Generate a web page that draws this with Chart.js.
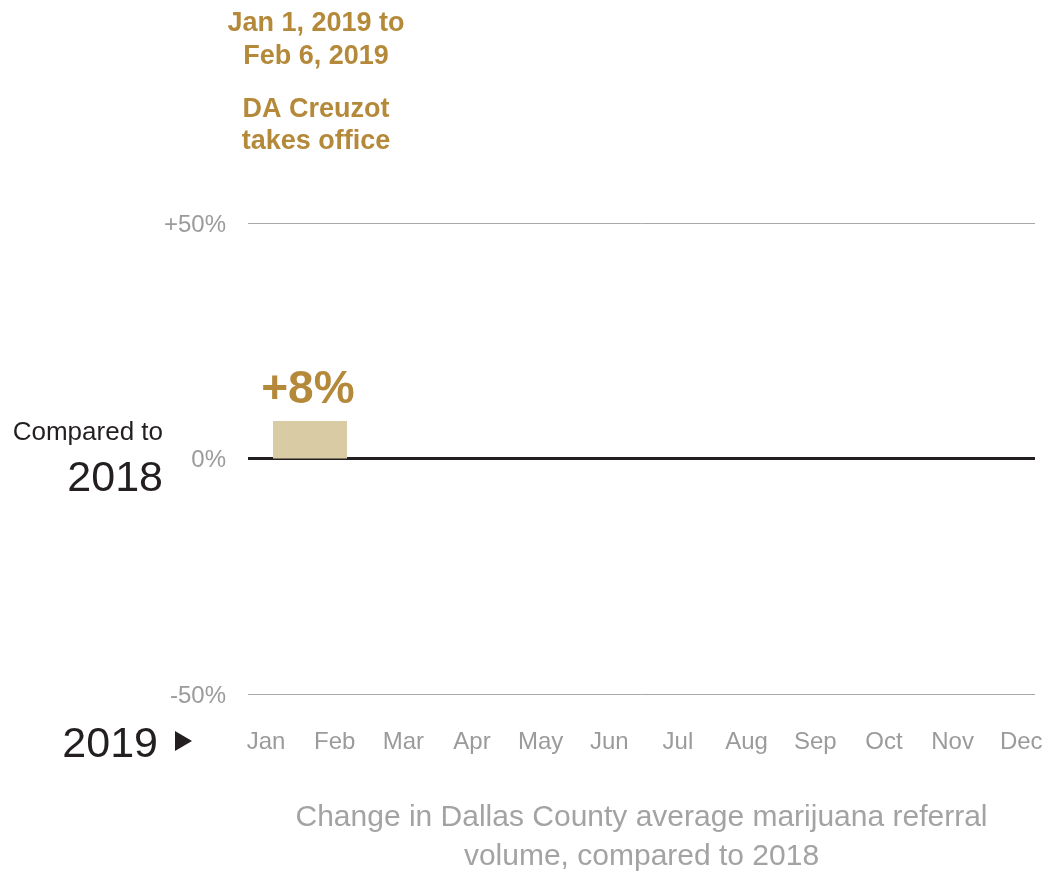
<!DOCTYPE html>
<html><head><meta charset="utf-8">
<script src="https://cdn.jsdelivr.net/npm/chart.js@4"></script>
<style>html,body{margin:0;padding:0;background:#fff}canvas{display:block}</style>
</head><body>
<canvas id="c" width="1043" height="871"></canvas>
<script>
const months = ['Jan','Feb','Mar','Apr','May','Jun','Jul','Aug','Sep','Oct','Nov','Dec'];
const yTicks = [-50, 0, 50];
const barStart = [0.1];
const barEnd = [1.18];
const barValues = [8];
const barLabels = ['+8%'];
const periodLines = ['Jan 1, 2019 to', 'Feb 6, 2019'];
const eventLines = ['DA Creuzot', 'takes office'];
const titleLines = ['Change in Dallas County average marijuana referral', 'volume, compared to 2018'];

const GOLD = '#b5893a';
const FONT = '"Liberation Sans", Arial, Helvetica, sans-serif';

const barData = [];
barStart.forEach((s, i) => { barData.push({x: s, y: barValues[i]}); barData.push({x: barEnd[i], y: barValues[i]}); });

const textPlugin = {
  id: 'texts',
  afterDraw(chart) {
    const ctx = chart.ctx, xs = chart.scales.x, ys = chart.scales.y, ca = chart.chartArea;
    ctx.save();
    const bx = xs.getPixelForValue((barStart[0] + barEnd[0]) / 2);
    const by = ys.getPixelForValue(barValues[0]);
    ctx.fillStyle = GOLD; ctx.textAlign = 'center'; ctx.textBaseline = 'alphabetic';
    ctx.font = 'bold 46px ' + FONT;
    ctx.fillText(barLabels[0], bx - 2, by - 18);
    ctx.font = 'bold 27px ' + FONT;
    const ax = bx + 6;
    ctx.fillText(periodLines[0], ax, 31);
    ctx.fillText(periodLines[1], ax, 64);
    ctx.fillText(eventLines[0], ax, 117);
    ctx.fillText(eventLines[1], ax, 149);
    const y0 = ys.getPixelForValue(0);
    ctx.fillStyle = '#231f20'; ctx.textAlign = 'right';
    ctx.font = '26px ' + FONT;
    ctx.fillText('Compared to', 163, y0 - 19);
    ctx.font = '43px ' + FONT;
    ctx.fillText('2018', 163, y0 + 32);
    ctx.fillText('2019', 158, 757);
    ctx.beginPath();
    ctx.moveTo(175, 731); ctx.lineTo(192, 741); ctx.lineTo(175, 751); ctx.closePath();
    ctx.fill();
    ctx.fillStyle = '#a3a3a3'; ctx.textAlign = 'center'; ctx.textBaseline = 'middle';
    ctx.font = '30px ' + FONT;
    const cx = (ca.left + ca.right) / 2;
    ctx.fillText(titleLines[0], cx, 818);
    ctx.fillText(titleLines[1], cx, 857);
    ctx.restore();
  }
};

new Chart(document.getElementById('c'), {
  type: 'line',
  data: {
    datasets: [{
      data: barData,
      fill: 'origin',
      backgroundColor: '#d9cba3',
      borderWidth: 0,
      borderColor: 'rgba(0,0,0,0)',
      pointRadius: 0,
      tension: 0
    }]
  },
  options: {
    responsive: false,
    devicePixelRatio: 1,
    animation: false,
    layout: {padding: {top: 223, bottom: 114, left: 148, right: 8}},
    plugins: {legend: {display: false}, tooltip: {enabled: false}, title: {display: false}},
    scales: {
      x: {
        type: 'linear',
        min: -0.262, max: 11.2,
        afterBuildTicks: (axis) => { axis.ticks = months.map((m, i) => ({value: i})); },
        grid: {display: true, drawOnChartArea: false, drawTicks: true, tickLength: 34, color: 'rgba(0,0,0,0)', tickColor: 'rgba(0,0,0,0)'},
        border: {display: false},
        ticks: {
          padding: 0, color: '#9b9b9b', maxRotation: 0, autoSkip: false,
          font: {size: 24, family: FONT},
          callback: (v) => months[v]
        }
      },
      y: {
        min: -50, max: 50,
        z: 1,
        afterBuildTicks: (axis) => { axis.ticks = yTicks.map(v => ({value: v})); },
        afterFit: (scale) => { scale.width = 100; },
        grid: {
          drawTicks: true,
          tickLength: 22,
          tickColor: 'rgba(0,0,0,0)',
          color: (c) => c.tick && c.tick.value === 0 ? '#231f20' : '#a8a8a8',
          lineWidth: (c) => c.tick && c.tick.value === 0 ? 3 : 1
        },
        border: {display: false},
        ticks: {
          padding: 0, color: '#9b9b9b', labelOffset: 2,
          font: {size: 24, family: FONT},
          callback: (v) => (v > 0 ? '+' : '') + v + '%'
        }
      }
    }
  },
  plugins: [textPlugin]
});
</script>
</body></html>
